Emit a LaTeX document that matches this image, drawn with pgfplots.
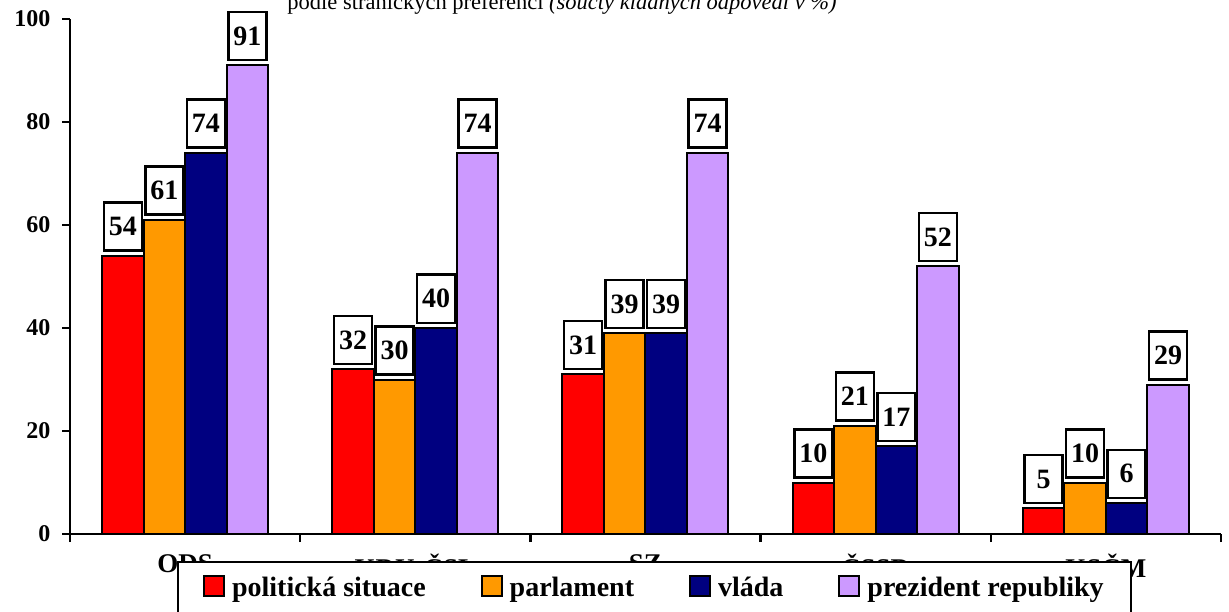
\documentclass[border=0pt]{standalone}
\usepackage{fontspec}
\setmainfont{Liberation Serif}
\usepackage{pgfplots}
\pgfplotsset{compat=1.18}

\definecolor{cRed}{HTML}{FF0000}
\definecolor{cOrange}{HTML}{FF9900}
\definecolor{cNavy}{HTML}{000080}
\definecolor{cViolet}{HTML}{CC99FF}

\begin{document}
\begin{tikzpicture}
\begin{axis}[
  at={(70pt,77pt)}, anchor=south west,
  scale only axis, width=1151pt, height=515pt,
  /pgf/number format/assume math mode=true,
  ybar=0pt, bar width=41.5pt,
  xmin=-0.5, xmax=4.5, ymin=0, ymax=100,
  axis x line*=bottom, axis y line*=left,
  axis line style={-, line width=2.5pt},
  tick align=outside, major tick length=8pt,
  tick style={line width=2.5pt, black},
  ytick={0,20,...,100},
  yticklabel style={font=\bfseries\fontsize{24}{26}\selectfont, xshift=-8pt},
  xtick={-0.5,0.5,...,4.5}, xticklabels={},
  extra x ticks={0,1,2,3,4},
  extra x tick labels={ODS,KDU-ČSL,SZ,ČSSD,KSČM},
  extra x tick style={major tick length=0pt,
    tick label style={font=\bfseries\fontsize{27}{29}\selectfont, yshift=-17pt}},
  nodes near coords,
  every node near coord/.append style={draw=black, line width=2.5pt, fill=white,
    minimum width=38pt, minimum height=48pt, inner sep=0pt, anchor=south,
    yshift=4pt, text=black, font=\bfseries\fontsize{28}{30}\selectfont},
  every axis plot/.append style={draw=black, line width=2pt},
  legend image code/.code={\draw[#1, line width=2pt] (0pt,-9pt) rectangle (20pt,11pt);},
  legend style={at={(0.093,-0.0524)}, anchor=north west, draw=black, line width=2pt,
    fill=white, font=\bfseries\fontsize{28}{30}\selectfont, legend columns=4,
    inner xsep=25pt, inner ysep=13pt, cells={anchor=west},
    /tikz/every odd column/.append style={column sep=5pt},
    /tikz/every even column/.append style={column sep=53pt}},
]
\addplot[fill=cRed] coordinates {(0,54) (1,32) (2,31) (3,10) (4,5)};
\addplot[fill=cOrange] coordinates {(0,61) (1,30) (2,39) (3,21) (4,10)};
\addplot[fill=cNavy] coordinates {(0,74) (1,40) (2,39) (3,17) (4,6)};
\addplot[fill=cViolet] coordinates {(0,91) (1,74) (2,74) (3,52) (4,29)};
\legend{politická situace, parlament, vláda, prezident republiky}
\end{axis}
\node[anchor=base, font=\fontsize{22.5}{25}\selectfont] at (562pt,601pt)
  {podle stranických preferencí \textit{(součty kladných odpovědí v \%)}};
\pgfresetboundingbox
\useasboundingbox (0pt,0pt) rectangle (1229pt,611pt);
\end{tikzpicture}
\end{document}
